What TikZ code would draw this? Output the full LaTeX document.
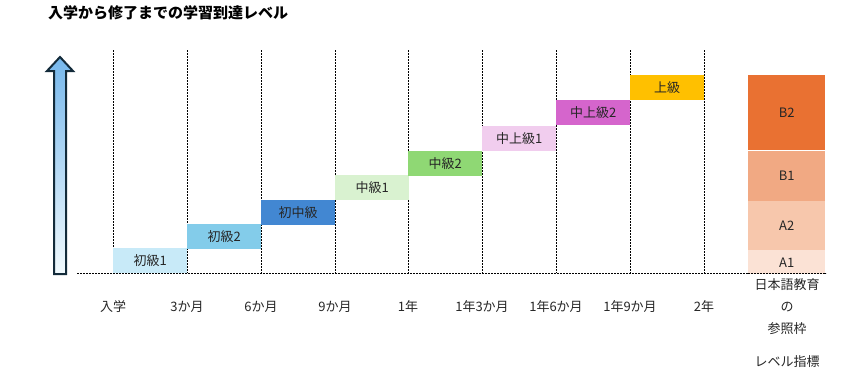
\documentclass[tikz,border=0pt]{standalone}
\usepackage{fontspec}
\setmainfont{Noto Sans CJK JP}
\usetikzlibrary{positioning}
\definecolor{lvA}{HTML}{C8EAF8}
\definecolor{lvB}{HTML}{83CCEA}
\definecolor{lvC}{HTML}{4287D2}
\definecolor{lvD}{HTML}{D9F2D0}
\definecolor{lvE}{HTML}{8FD874}
\definecolor{lvF}{HTML}{F1CDEE}
\definecolor{lvG}{HTML}{D565CC}
\definecolor{lvH}{HTML}{FFC000}
\definecolor{cefrBtwo}{HTML}{E97132}
\definecolor{cefrBone}{HTML}{F1A983}
\definecolor{cefrAtwo}{HTML}{F7C7AC}
\definecolor{cefrAone}{HTML}{FBE2D5}
\definecolor{arrowline}{HTML}{132B3A}
\definecolor{txt}{HTML}{262626}
\tikzset{
  grid/.style={line width=0.8pt, dash pattern=on 1.6pt off 1.4pt},
  bar/.style={minimum width=74pt, minimum height=25pt, inner sep=0pt,
    anchor=north west, text=txt, font=\fontsize{13}{15}\selectfont},
  tick/.style={font=\fontsize{13}{15}\selectfont, text=txt, inner sep=0pt},
  cefr/.style={minimum width=77pt, inner sep=0pt, anchor=north west, text=txt,
    font=\fontsize{13}{15}\selectfont}
}
\begin{document}
\begin{tikzpicture}[x=1pt, y=-1pt]
  \useasboundingbox (0,0) rectangle (843,384);
  % title
  \node[anchor=west, font=\bfseries\fontsize{15}{17}\selectfont, inner sep=0pt]
    (title) at (48,13) {入学から修了までの学習到達レベル};
  % grid
  \coordinate (base l) at (77,273);
  \coordinate (base r) at (826,273);
  \draw[grid] (base l) -- (base r);
  \foreach \x/\t [count=\i] in {113/入学, 187/3か月, 261/6か月, 335/9か月, 408/1年,
      482/1年3か月, 556/1年6か月, 630/1年9か月, 704/2年} {
    \coordinate (top\i) at (\x,50);
    \coordinate (bot\i) at (\x,273);
    \draw[grid] (top\i) -- (bot\i);
    \node[tick] (t\i) at (\x,307) {\t};
  }
  % levels
  \node[bar, fill=lvA] (l1) at (113,248) {初級1};
  \node[bar, fill=lvB] (l2) at (187,224) {初級2};
  \node[bar, fill=lvC] (l3) at (261,200) {初中級};
  \node[bar, fill=lvD] (l4) at (335,175) {中級1};
  \node[bar, fill=lvE] (l5) at (408,151) {中級2};
  \node[bar, fill=lvF] (l6) at (482,126) {中上級1};
  \node[bar, fill=lvG] (l7) at (556,100) {中上級2};
  \node[bar, fill=lvH] (l8) at (630,75) {上級};
  % reference frame
  \node[cefr, fill=cefrBtwo, minimum height=75pt] (b2) at (748,75) {B2};
  \node[cefr, fill=cefrBone, minimum height=50pt, below=0pt of b2] (b1) {B1};
  \node[cefr, fill=cefrAtwo, minimum height=49pt, below=0pt of b1] (a2) {A2};
  \node[cefr, fill=cefrAone, minimum height=24pt, below=0pt of a2] (a1) {A1};
  \draw[grid] (748,273) -- (826,273);
  \node[tick, align=center, font=\fontsize{13}{22}\selectfont] (ref) at (787,307)
    {日本語教育\\の\\参照枠};
  \node[tick] (refsub) at (787,362) {レベル指標};
  % arrow
  \shade[top color=lvB!90!blue, middle color=lvB!45, bottom color=lvA!25]
    (60,57) -- (73,71) -- (66,71) -- (66,274) -- (54,274) -- (54,71) -- (47,71) -- cycle;
  \draw[arrowline, line width=2pt, line join=miter]
    (60,57) -- (73,71) -- (66,71) -- (66,274) -- (54,274) -- (54,71) -- (47,71) -- cycle;
\end{tikzpicture}
\end{document}
